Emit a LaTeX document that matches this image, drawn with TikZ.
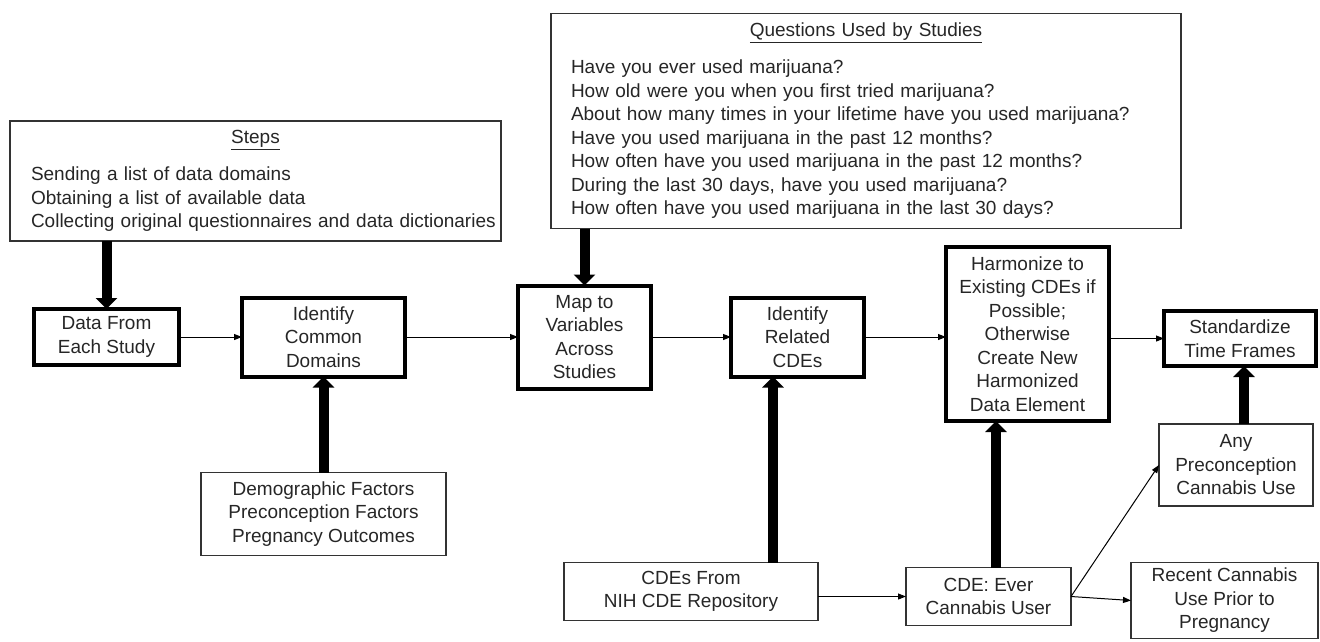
\documentclass[tikz,border=0pt]{standalone}
\usepackage{fontspec}
\setmainfont{Liberation Sans}
\usetikzlibrary{shapes, positioning, arrows.meta, calc}
\tikzset{
  stepbox/.style={
    rectangle,
    draw=black, line width=4pt,
    inner sep=0pt, outer sep=0pt,
    align=center
  },
  infobox/.style={
    rectangle,
    draw=black!80, line width=1.2pt,
    inner sep=0pt, outer sep=0pt,
    align=center
  },
  listbox/.style={
    infobox,
    align=left,
    execute at begin node={\setlength\parindent{0pt}}
  },
  arrow/.style={
    draw=black,
    line width=1pt,
    -{Triangle[length=8pt, width=6pt]}
  },
  bigarrow/.style={
    draw=black,
    line width=10pt,
    -{Triangle[length=11pt, width=21pt]}
  }
}

\begin{document}
\begin{tikzpicture}[x=1pt, y=-1pt, font=\fontsize{19}{23.5}\selectfont, text=black!85]
\useasboundingbox (0,0) rectangle (1320,641);

% nodes
\node[stepbox, minimum width=145pt, minimum height=56pt] (data) at (106.5,337)
{Data From\\Each Study};

\node[stepbox, minimum width=163pt, minimum height=79pt, right = 63pt of data] (common)
{Identify\\Common\\Domains};

\node[stepbox, minimum width=133pt, minimum height=103pt, right = 113pt of common] (mapvars)
{Map to\\Variables\\Across\\Studies};

\node[stepbox, minimum width=133pt, minimum height=79pt, right = 80pt of mapvars] (related)
{Identify\\Related\\CDEs};

\node[stepbox, minimum width=163pt, minimum height=174pt, right = 82pt of related, yshift=3pt] (harmonize)
{Harmonize to\\Existing CDEs if\\Possible;\\Otherwise\\Create New\\Harmonized\\Data Element};

\node[stepbox, minimum width=152pt, minimum height=55pt, right = 55pt of harmonize, yshift=-4.5pt] (standardize)
{Standardize\\Time Frames};

\node[listbox, text width=491pt, minimum height=120pt, above = 68pt of data.north west, anchor=south west, xshift=-24pt] (steps)
{ {\centering\underline{Steps}\par}
  \vspace{13.5pt}
  {\leftskip=21pt
   Sending a list of data domains\\
   Obtaining a list of available data\\
   Collecting original questionnaires and data dictionaries\par}
};

\node[listbox, text width=630pt, minimum height=215pt, above = 57pt of mapvars.north west, anchor=south west, xshift=33pt] (questions)
{ {\centering\underline{Questions Used by Studies}\par}
  \vspace{13.5pt}
  {\leftskip=20pt
   Have you ever used marijuana?\\
   How old were you when you first tried marijuana?\\
   About how many times in your lifetime have you used marijuana?\\
   Have you used marijuana in the past 12 months?\\
   How often have you used marijuana in the past 12 months?\\
   During the last 30 days, have you used marijuana?\\
   How often have you used marijuana in the last 30 days?\par}
};

\node[infobox, minimum width=245pt, minimum height=83pt, below = 96pt of common] (factors)
{Demographic Factors\\Preconception Factors\\Pregnancy Outcomes};

\node[infobox, minimum width=254pt, minimum height=58pt, below = 186pt of related.south east, anchor=north east, xshift=-46pt] (nih)
{CDEs From\\NIH CDE Repository};

\node[infobox, minimum width=165pt, minimum height=58pt, right = 88pt of nih, yshift=-5pt] (ever)
{CDE: Ever\\Cannabis User};

\node[infobox, minimum width=154pt, minimum height=82pt, below = 58pt of standardize, xshift=-4pt] (anyuse)
{Any\\Preconception\\Cannabis Use};

\node[infobox, minimum width=187pt, minimum height=76pt, right = 60pt of ever, yshift=-4pt] (recent)
{Recent Cannabis\\Use Prior to\\Pregnancy};

% edges

%% main row
\draw [arrow] (data.east) -- (common.west);
\draw [arrow] (common.east) -- (mapvars.west);
\draw [arrow] (mapvars.east) -- (related.west);
\draw [arrow] (related.east) -- (related.east -| harmonize.west);
\draw [arrow] (harmonize.east |- standardize.west) -- (standardize.west);

%% inputs
\draw [bigarrow] (steps.south -| data.north) -- (data.north);
\draw [bigarrow] (questions.south -| mapvars.north) -- (mapvars.north);
\draw [bigarrow] (factors.north) -- (common.south);

\coordinate[left=24.5pt of related.south] (hr);
\draw [bigarrow] (nih.north -| hr) -- (hr);

\coordinate[left=31.5pt of harmonize.south] (hh);
\draw [bigarrow] (ever.north -| hh) -- (hh);

\coordinate[right=4pt of standardize.south] (hs);
\draw [bigarrow] (anyuse.north -| hs) -- (hs);

%% cannabis use
\draw [arrow] (nih.east |- ever.west) -- (ever.west);
\draw [arrow] (ever.east) -- (anyuse.west);
\draw [arrow] (ever.east) -- (recent.west);
\end{tikzpicture}
\end{document}
